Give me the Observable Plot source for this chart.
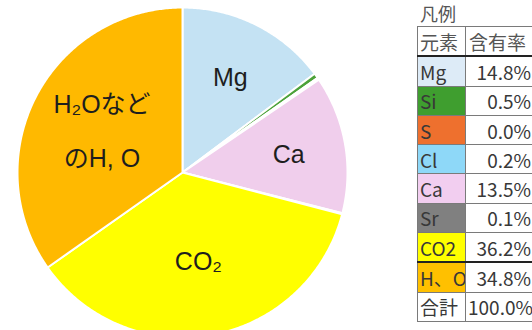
<!DOCTYPE html>
<html><head><meta charset="utf-8">
<script src="https://cdn.jsdelivr.net/npm/d3@7"></script>
<script src="https://cdn.jsdelivr.net/npm/@observablehq/plot@0.6"></script>
<style>
html,body{margin:0;padding:0;background:#fff;overflow:hidden;width:532px;height:330px}
#wrap{position:relative;width:532px;height:330px;overflow:hidden}
#legend{position:absolute;left:417px;top:0;font-family:"Noto Sans CJK JP",sans-serif;color:#383838;font-size:19px}
#legend .title{height:26px;line-height:27px;font-size:18px;padding-left:3px;color:#555}
#legend table{border-collapse:collapse;table-layout:fixed;width:120px}
#legend td{height:28.3px;padding:0 2px;border:1px solid #7a7a7a;line-height:1;white-space:nowrap;overflow:hidden}
#legend td.v{text-align:right;padding-right:6px;background:#fff}
#legend tr.head td{border-bottom:2px solid #222;color:#555}
#legend tr.sep td{border-top:2px solid #222}
</style>
</head><body>
<div id="wrap"><div id="chart"></div><div id="legend"></div></div>
<script>
// ---- data ----
const names = ["Mg", "Si", "S", "Cl", "Ca", "Sr", "CO2", "H, O"];
const tableNames = ["Mg", "Si", "S", "Cl", "Ca", "Sr", "CO2", "H、O"];
const values = [14.8, 0.5, 0.0, 0.2, 13.5, 0.1, 36.2, 34.8];
const pieLabels = ["Mg", "", "", "", "Ca", "", "CO₂", "H₂Oなど\nのH, O"];
const totalLabel = "100.0%";
const legendTitle = "凡例";
const headers = ["元素", "含有率"];
const totalName = "合計";
const pieColors = ["#C4E2F3", "#4CA23A", "#ED7D31", "#82D4F6", "#F0CEEC", "#7F7F7F", "#FFFF00", "#FFB900"];
const cellColors = ["#DDEBF7", "#3F9E2F", "#EE702E", "#8ED8F8", "#F2CEF0", "#808080", "#FFFF00", "#FFC000"];

// ---- layout ----
const W = 532, H = 330, cx = 182, cy = 172, R = 165;
// label distance from centre (fraction of radius) shrinks for bigger slices
const labelRadius = frac => 0.72 - 0.49 * frac;

const total = d3.sum(values);
const rows = names.map((n, i) => ({name: n, value: values[i], label: pieLabels[i]}));
const arcs = d3.pie().sort(null).value(d => d.value)(rows);
const pts = [];
const labs = [];
arcs.forEach(a => {
  const span = a.endAngle - a.startAngle;
  if (span <= 0) return;
  const name = a.data.name;
  pts.push({name, x: 0, y: 0});
  const n = Math.max(2, Math.ceil(span / 0.01));
  for (let i = 0; i <= n; i++) {
    const t = a.startAngle + span * i / n;
    pts.push({name, x: Math.sin(t), y: Math.cos(t)});
  }
  pts.push({name, x: 0, y: 0});
  if (a.data.label) {
    const m = (a.startAngle + a.endAngle) / 2;
    const r = labelRadius(a.data.value / total);
    labs.push({text: a.data.label, x: r * Math.sin(m), y: r * Math.cos(m)});
  }
});

const chart = Plot.plot({
  width: W, height: H, margin: 0,
  x: {domain: [-cx / R, (W - cx) / R], axis: null},
  y: {domain: [-(H - cy) / R, cy / R], axis: null},
  color: {domain: names, range: pieColors},
  style: {background: "transparent", overflow: "hidden"},
  marks: [
    Plot.line(pts, {x: "x", y: "y", z: "name", fill: "name", stroke: "white", strokeWidth: 2, strokeLinejoin: "round", curve: "linear"}),
    Plot.text(labs, {x: "x", y: "y", text: "text", fontSize: 25, lineHeight: 2.15, dy: -8,
      fontFamily: "'Liberation Sans', 'Noto Sans CJK JP', sans-serif", fill: "#1e1e1e"})
  ]
});
document.getElementById("chart").appendChild(chart);

// ---- legend table ----
const leg = d3.select("#legend");
leg.append("div").attr("class", "title").text(legendTitle);
const tb = leg.append("table");
const cg = tb.append("colgroup");
cg.append("col").style("width", "48px");
cg.append("col").style("width", "72px");
const hr = tb.append("tr").attr("class", "head");
hr.append("td").text(headers[0]);
hr.append("td").style("text-align", "left").style("padding-left", "3px").text(headers[1]);
tableNames.forEach((n, i) => {
  const tr = tb.append("tr").attr("class", n === "H、O" ? "sep" : null);
  tr.append("td").style("background", cellColors[i]).text(n);
  tr.append("td").attr("class", "v").text(values[i].toFixed(1) + "%");
});
const tr = tb.append("tr");
tr.append("td").text(totalName);
tr.append("td").attr("class", "v").text(totalLabel);
</script>
</body></html>
